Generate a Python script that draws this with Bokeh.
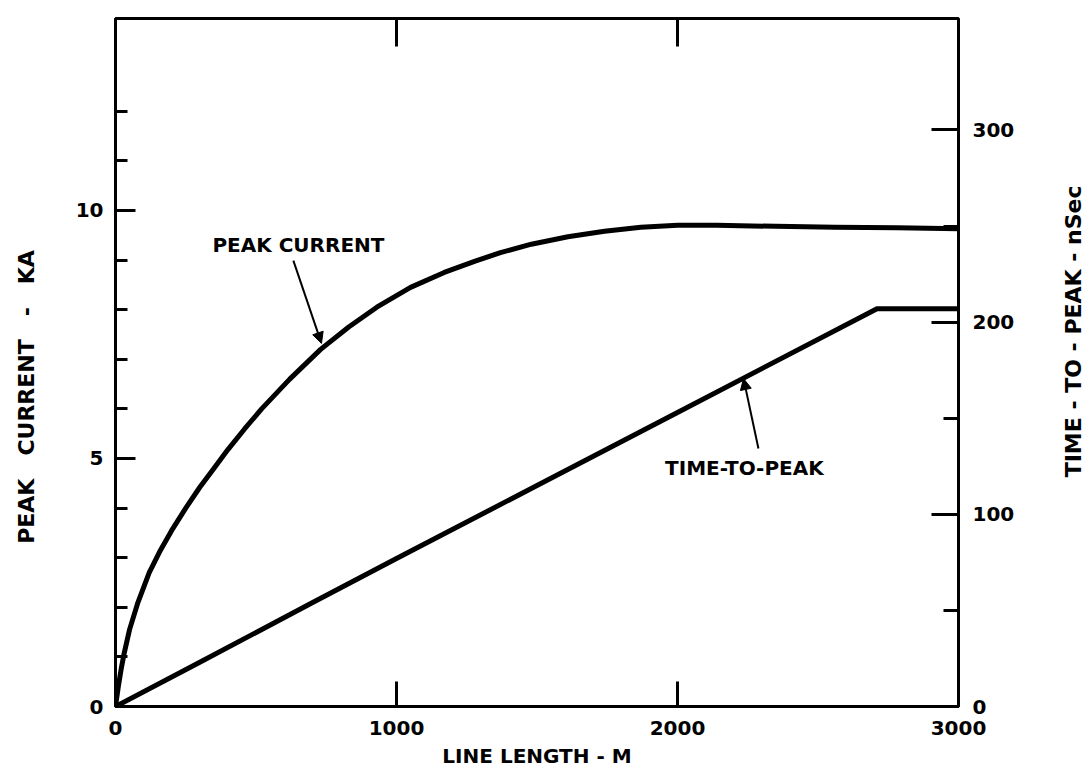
import math
from bokeh.plotting import figure
from bokeh.layouts import row
from bokeh.models import Range1d, LinearAxis, FixedTicker, Label, Arrow, NormalHead
from bokeh.embed import file_html
from bokeh.resources import INLINE

# ---- data ----
line_length_pc = [0, 10, 20, 30, 50, 80, 120, 160, 200, 250, 300, 350, 400, 460, 520,
                  620, 730, 830, 930, 1050, 1170, 1280, 1370, 1480, 1610, 1740, 1870,
                  2000, 2140, 2350, 2560, 2780, 3000]
peak_current_ka = [0, 0.4, 0.75, 1.05, 1.55, 2.1, 2.7, 3.15, 3.55, 4.0, 4.42, 4.8, 5.18,
                   5.6, 6.0, 6.6, 7.2, 7.65, 8.05, 8.45, 8.75, 8.98, 9.15, 9.32, 9.47,
                   9.58, 9.66, 9.7, 9.7, 9.68, 9.66, 9.65, 9.63]

line_length_tp = [0, 300, 700, 1000, 1500, 2000, 2710, 3000]
time_to_peak_ns = [0, 23, 54, 77, 115, 153, 207, 207]

x_ticks = [0, 1000, 2000, 3000]
x_top_ticks = [1000, 2000]
left_ticks = [0, 5, 10]
left_minor = [1, 2, 3, 4, 6, 7, 8, 9, 11, 12]
right_ticks = [0, 100, 200, 300]
right_minor = [50, 150, 250]

NB = "\u00a0"
GAP = NB * 2 + " "
x_title = "LINE LENGTH - M"
# non-breaking spaces widen the word gaps and shift the centred title as in the reference
left_title = "PEAK" + GAP + "CURRENT" + GAP + "-" + GAP + "KA" + NB * 9
right_title = "TIME - TO - PEAK - nSec"
pc_label = "PEAK CURRENT"
tp_label = "TIME-TO-PEAK"

# annotation anchor positions (data units: x in m, y in KA)
pc_label_pos = (651, 9.31)
pc_arrow = (633, 8.99, 733, 7.32)
tp_label_pos = (2238, 4.80)
tp_arrow = (2288, 5.20, 2235, 6.61)
# right title position inside its side strip (pixels from strip's left / bottom)
right_title_pos = (55, 422)

FONT = "DejaVu Sans"
FS = "20px"
TITLE_FS = "22px"

MAIN_W, SIDE_W, H = 1018, 70, 774

p = figure(width=MAIN_W, height=H, output_backend="svg", toolbar_location=None,
           x_range=Range1d(0, 3000), y_range=Range1d(0, 13.87),
           x_axis_location=None, y_axis_location=None,
           min_border_left=115, min_border_right=MAIN_W - 115 - 843,
           min_border_top=18, min_border_bottom=68)
p.extra_y_ranges = {"t": Range1d(0, 358)}
p.grid.visible = False
p.outline_line_color = "black"
p.outline_line_width = 3
p.background_fill_color = "white"
p.border_fill_color = "white"


def style(ax, tick_in, minor_in, standoff):
    ax.axis_line_color = None
    ax.major_tick_in = tick_in
    ax.major_tick_out = 0
    ax.minor_tick_in = minor_in
    ax.minor_tick_out = 0
    ax.major_tick_line_width = 3
    ax.minor_tick_line_width = 3
    ax.major_tick_line_color = "black"
    ax.minor_tick_line_color = "black"
    ax.major_label_text_font = FONT
    ax.major_label_text_font_size = FS
    ax.major_label_text_font_style = "bold"
    ax.major_label_text_color = "black"
    ax.major_label_standoff = standoff
    ax.axis_label_text_font = FONT
    ax.axis_label_text_font_size = FS
    ax.axis_label_text_font_style = "bold"
    ax.axis_label_text_color = "black"


bottom = LinearAxis(ticker=FixedTicker(ticks=x_ticks), axis_label=x_title)
style(bottom, 25, 0, 14)
bottom.axis_label_standoff = 6
p.add_layout(bottom, "below")

top = LinearAxis(ticker=FixedTicker(ticks=x_top_ticks))
style(top, 28, 0, 0)
top.major_label_text_font_size = "1px"
top.major_label_text_color = None
p.add_layout(top, "above")

left = LinearAxis(ticker=FixedTicker(ticks=left_ticks, minor_ticks=left_minor),
                  axis_label=left_title)
style(left, 20, 12, 12)
left.axis_label_text_font_size = TITLE_FS
left.axis_label_standoff = 34
p.add_layout(left, "left")

right = LinearAxis(y_range_name="t",
                   ticker=FixedTicker(ticks=right_ticks, minor_ticks=right_minor))
style(right, 27, 15, 14)
p.add_layout(right, "right")

p.line(line_length_pc, peak_current_ka, line_width=5, line_color="black", line_join="round")
p.line(line_length_tp, time_to_peak_ns, y_range_name="t", line_width=5, line_color="black",
       line_join="round")

for txt, pos in ((pc_label, pc_label_pos), (tp_label, tp_label_pos)):
    p.add_layout(Label(x=pos[0], y=pos[1], text=txt, text_align="center", text_baseline="middle",
                       text_font=FONT, text_font_size=FS, text_font_style="bold",
                       text_color="black"))

for a in (pc_arrow, tp_arrow):
    p.add_layout(Arrow(x_start=a[0], y_start=a[1], x_end=a[2], y_end=a[3], line_width=2,
                       line_color="black",
                       end=NormalHead(size=11, fill_color="black", line_color="black")))

# side strip carrying the right-hand axis title, reading bottom-to-top as in the reference
side = figure(width=SIDE_W, height=H, output_backend="svg", toolbar_location=None,
              x_range=Range1d(0, SIDE_W), y_range=Range1d(0, H),
              x_axis_location=None, y_axis_location=None, min_border=0)
side.grid.visible = False
side.outline_line_color = None
side.background_fill_color = "white"
side.border_fill_color = "white"
side.add_layout(Label(x=right_title_pos[0], y=right_title_pos[1], text=right_title,
                      angle=math.pi / 2, text_align="center", text_baseline="middle",
                      text_font=FONT, text_font_size=TITLE_FS, text_font_style="bold",
                      text_color="black"))

layout = row(p, side, spacing=0)
open("out.html", "w").write(file_html(layout, INLINE))
